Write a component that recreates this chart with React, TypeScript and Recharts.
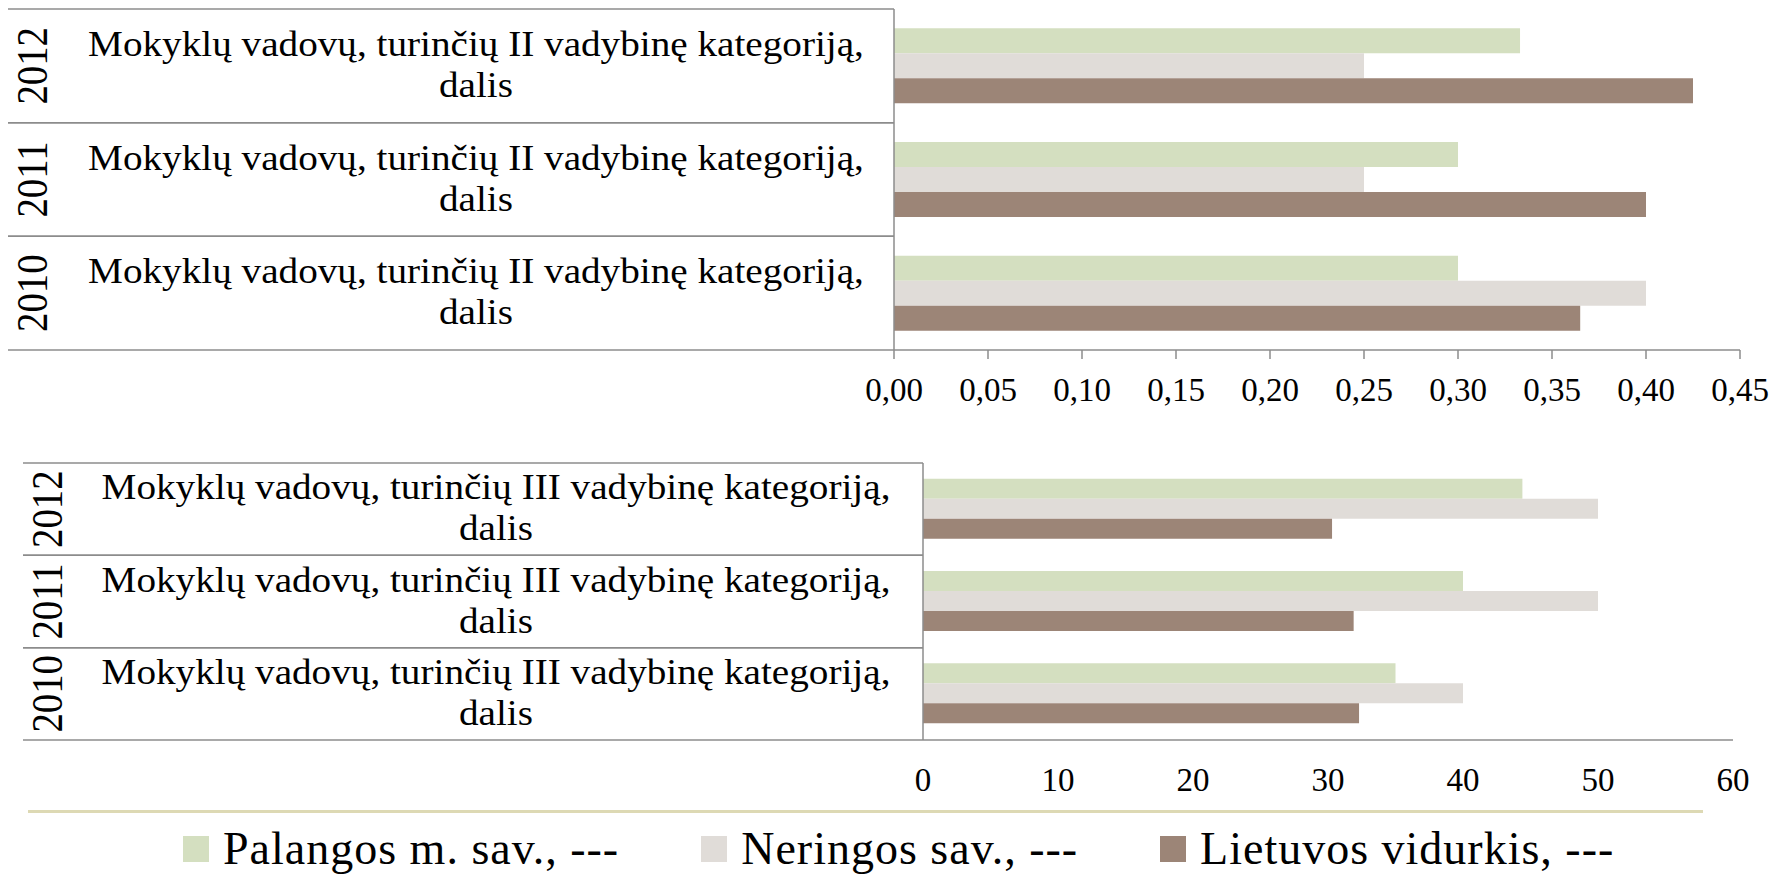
import { BarChart, Bar, XAxis, YAxis } from 'recharts'

const years = ['2012', '2011', '2010']
const labelII = ['Mokyklų vadovų, turinčių II vadybinę kategoriją,', 'dalis']
const labelIII = ['Mokyklų vadovų, turinčių III vadybinę kategoriją,', 'dalis']

// II vadybine kategorija (dalis)
const palangosII = [0.333, 0.3, 0.3]
const neringosII = [0.25, 0.25, 0.4]
const lietuvosII = [0.425, 0.4, 0.365]
const ticksII = [0, 0.05, 0.1, 0.15, 0.2, 0.25, 0.3, 0.35, 0.4, 0.45]

// III vadybine kategorija
const palangosIII = [44.4, 40, 35]
const neringosIII = [50, 50, 40]
const lietuvosIII = [30.3, 31.9, 32.3]
const ticksIII = [0, 10, 20, 30, 40, 50, 60]

const seriesKeys = ['palangos', 'neringos', 'lietuvos']
const seriesNames = ['Palangos m. sav., ---', 'Neringos sav., ---', 'Lietuvos vidurkis, ---']
const colors = ['#d4dfc0', '#e0dcd8', '#9c8577']

const FONT = '"Liberation Serif", "Times New Roman", serif'
const AXIS_GRAY = '#8c8c8c'

const dataII = years.map((year, i) => ({
  year,
  palangos: palangosII[i],
  neringos: neringosII[i],
  lietuvos: lietuvosII[i],
}))

const dataIII = years.map((year, i) => ({
  year,
  palangos: palangosIII[i],
  neringos: neringosIII[i],
  lietuvos: lietuvosIII[i],
}))

interface TickOpts {
  left: number
  axisX: number
  labelX: number
  yearX: number
  halfBand: number
  lines: string[]
}

// category tick draws the year, the two-line label and the table rules
function makeCategoryTick(o: TickOpts) {
  return (props: any) => {
    const { y, payload } = props
    const h = o.halfBand
    return (
      <g>
        <line x1={o.left} x2={o.axisX} y1={y - h} y2={y - h} stroke={AXIS_GRAY} strokeWidth={1.5} />
        <line x1={o.left} x2={o.axisX} y1={y + h} y2={y + h} stroke={AXIS_GRAY} strokeWidth={1.5} />
        <g transform={`translate(${o.yearX} ${y}) rotate(-90) scale(0.97 1.1)`}>
          <text x={0} y={0} textAnchor="middle" fontFamily={FONT} fontSize={40} fill="#000">
            {payload.value}
          </text>
        </g>
        <g transform={`translate(${o.labelX} ${y}) scale(1.12 1)`}>
          <text x={0} y={-10} textAnchor="middle" fontFamily={FONT} fontSize={35} fill="#000">
            {o.lines[0]}
          </text>
          <text x={0} y={31} textAnchor="middle" fontFamily={FONT} fontSize={35} fill="#000">
            {o.lines[1]}
          </text>
        </g>
      </g>
    )
  }
}

const fmt2 = (v: number) => v.toFixed(2).replace('.', ',')

export default function App() {
  const topH = 410
  const topMargin = { top: 9, right: 29, left: 8, bottom: 0 }
  const topYW = 886
  const botH = 380
  const botMargin = { top: 43, right: 36, left: 23, bottom: 0 }
  const botYW = 900

  return (
    <div style={{ position: 'absolute', left: 0, top: 0, width: 1769, height: 875, background: '#fff', overflow: 'hidden' }}>
      <div style={{ position: 'absolute', left: 0, top: 0 }}>
        <BarChart
          width={1769}
          height={topH}
          data={dataII}
          layout="vertical"
          margin={topMargin}
          barCategoryGap="17%"
          barGap={0}
        >
          <XAxis
            type="number"
            domain={[0, 0.45]}
            ticks={ticksII}
            tickFormatter={fmt2}
            height={60}
            axisLine={{ stroke: AXIS_GRAY, strokeWidth: 1.5 }}
            tickLine={{ stroke: AXIS_GRAY, strokeWidth: 1.5 }}
            tickSize={9}
            tickMargin={19}
            tick={{ fontFamily: FONT, fontSize: 33, fill: '#000' }}
            interval={0}
          />
          <YAxis
            type="category"
            dataKey="year"
            width={topYW}
            axisLine={{ stroke: AXIS_GRAY, strokeWidth: 1.5 }}
            tickLine={false}
            interval={0}
            tick={makeCategoryTick({
              left: topMargin.left,
              axisX: topMargin.left + topYW,
              labelX: 476,
              yearX: 47,
              halfBand: (topH - topMargin.top - 60) / 6,
              lines: labelII,
            })}
          />
          {seriesKeys.map((k, i) => (
            <Bar key={k} dataKey={k} name={seriesNames[i]} fill={colors[i]} isAnimationActive={false} />
          ))}
        </BarChart>
      </div>

      <div style={{ position: 'absolute', left: 0, top: 420 }}>
        <BarChart
          width={1769}
          height={botH}
          data={dataIII}
          layout="vertical"
          margin={botMargin}
          barCategoryGap="17%"
          barGap={0}
        >
          <XAxis
            type="number"
            domain={[0, 60]}
            ticks={ticksIII}
            height={60}
            axisLine={{ stroke: AXIS_GRAY, strokeWidth: 1.5 }}
            tickLine={false}
            tickSize={9}
            tickMargin={19}
            tick={{ fontFamily: FONT, fontSize: 33, fill: '#000' }}
            interval={0}
          />
          <YAxis
            type="category"
            dataKey="year"
            width={botYW}
            axisLine={{ stroke: AXIS_GRAY, strokeWidth: 1.5 }}
            tickLine={false}
            interval={0}
            tick={makeCategoryTick({
              left: botMargin.left,
              axisX: botMargin.left + botYW,
              labelX: 496,
              yearX: 62,
              halfBand: (botH - botMargin.top - 60) / 6,
              lines: labelIII,
            })}
          />
          {seriesKeys.map((k, i) => (
            <Bar key={k} dataKey={k} name={seriesNames[i]} fill={colors[i]} isAnimationActive={false} />
          ))}
        </BarChart>
      </div>

      {/* legend */}
      <div style={{ position: 'absolute', left: 28, top: 810, width: 1675, height: 3, background: '#ddd9b4' }} />
      <div
        style={{
          position: 'absolute',
          left: 183,
          top: 826,
          display: 'flex',
          alignItems: 'center',
          gap: 82,
          fontFamily: FONT,
          fontSize: 46,
          letterSpacing: 1,
          lineHeight: 1,
          color: '#000',
          whiteSpace: 'nowrap',
        }}
      >
        {seriesNames.map((name, i) => (
          <div key={name} style={{ display: 'flex', alignItems: 'center' }}>
            <span style={{ display: 'inline-block', width: 26, height: 26, background: colors[i], marginRight: 14 }} />
            <span>{name}</span>
          </div>
        ))}
      </div>
    </div>
  )
}
